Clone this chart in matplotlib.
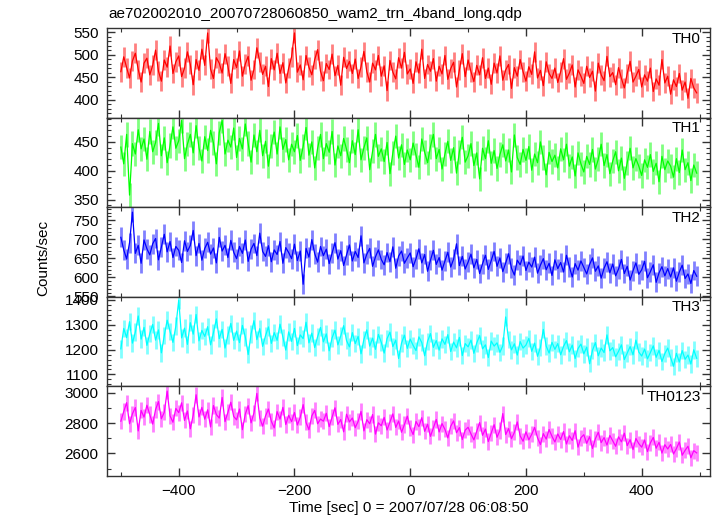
import numpy as np
import matplotlib.pyplot as plt
from matplotlib.ticker import MultipleLocator

plt.rcParams['font.family'] = ['Liberation Sans', 'DejaVu Sans']

# 5-sec samples from -500 to 495 sec
time = np.arange(-500, 500, 5)

th0 = [462, 495, 471, 448, 486, 503, 467, 439, 481, 492,
       455, 476, 510, 463, 441, 488, 472, 519, 458, 484,
       497, 451, 470, 506, 478, 433, 489, 465, 512, 476,
       548, 468, 447, 493, 481, 459, 502, 474, 436, 489,
       471, 508, 452, 479, 496, 443, 467, 515, 484, 456,
       474, 429, 491, 466, 503, 458, 482, 437, 470, 495,
       548, 461, 477, 444, 498, 472, 455, 489, 511, 463,
       442, 480, 467, 501, 453, 476, 432, 494, 469, 485,
       458, 490, 447, 473, 507, 462, 439, 481, 466, 498,
       452, 475, 420, 487, 461, 446, 493, 470, 505, 457,
       468, 436, 484, 459, 512, 447, 478, 463, 491, 441,
       474, 457, 498, 445, 469, 483, 428, 466, 502, 451,
       488, 462, 440, 476, 455, 493, 447, 470, 434, 481,
       459, 497, 443, 466, 478, 425, 471, 452, 489, 462,
       441, 473, 456, 506, 448, 465, 431, 484, 458, 447,
       470, 438, 462, 491, 445, 459, 477, 428, 466, 452,
       436, 474, 449, 463, 419, 481, 455, 442, 496, 451,
       460, 433, 471, 447, 426, 458, 485, 439, 452, 467,
       428, 455, 441, 470, 418, 446, 432, 489, 437, 452,
       412, 444, 429, 458, 421, 439, 403, 447, 426, 415]

th1 = [441, 412, 463, 358, 447, 429, 471, 438, 455, 420,
       468, 433, 449, 482, 426, 457, 414, 444, 476, 439,
       452, 487, 421, 446, 463, 431, 478, 440, 417, 459,
       435, 470, 448, 412, 466, 487, 429, 453, 441, 474,
       423, 456, 438, 481, 447, 415, 462, 433, 470, 426,
       451, 408, 443, 467, 429, 476, 437, 454, 419, 446,
       433, 461, 418, 442, 475, 427, 450, 405, 439, 463,
       421, 447, 432, 468, 410, 443, 426, 456, 437, 414,
       452, 428, 471, 419, 440, 457, 402, 434, 463, 425,
       438, 416, 449, 395, 431, 460, 422, 445, 411, 436,
       419, 448, 427, 406, 455, 432, 414, 442, 463, 421,
       437, 403, 429, 451, 418, 440, 396, 433, 458, 415,
       426, 447, 409, 431, 386, 439, 421, 452, 413, 435,
       404, 428, 445, 417, 436, 398, 462, 423, 411, 437,
       418, 442, 401, 429, 414, 450, 423, 393, 432, 416,
       427, 405, 438, 419, 446, 408, 424, 391, 431, 412,
       398, 425, 411, 437, 403, 420, 446, 409, 428, 395,
       417, 433, 400, 422, 387, 414, 439, 405, 421, 408,
       392, 419, 406, 428, 399, 413, 381, 425, 402, 417,
       408, 389, 421, 397, 436, 402, 414, 383, 410, 396]

th2 = [705, 672, 648, 691, 771, 663, 684, 637, 698, 675,
       659, 688, 702, 646, 679, 713, 667, 694, 652, 681,
       671, 639, 696, 668, 684, 723, 657, 689, 645, 676,
       692, 661, 677, 638, 705, 669, 684, 652, 697, 666,
       649, 681, 663, 698, 642, 674, 689, 657, 716, 668,
       655, 683, 641, 672, 660, 694, 637, 678, 665, 649,
       687, 644, 669, 582, 676, 653, 699, 662, 640, 681,
       657, 674, 636, 664, 691, 648, 670, 631, 659, 685,
       643, 668, 652, 709, 638, 661, 676, 629, 654, 672,
       647, 633, 665, 641, 680, 624, 656, 669, 637, 651,
       664, 628, 649, 675, 638, 660, 616, 645, 671, 634,
       652, 619, 643, 666, 627, 648, 688, 631, 655, 622,
       640, 661, 625, 647, 610, 636, 658, 621, 644, 668,
       629, 651, 615, 638, 662, 624, 606, 645, 633, 656,
       618, 640, 627, 653, 611, 632, 649, 620, 637, 605,
       646, 623, 639, 614, 658, 628, 601, 636, 619, 643,
       626, 609, 634, 651, 616, 630, 598, 624, 641, 612,
       635, 604, 622, 647, 610, 629, 593, 617, 638, 608,
       620, 642, 599, 615, 633, 587, 612, 628, 604, 623,
       601, 625, 590, 614, 632, 597, 609, 584, 618, 603]

th3 = [1203, 1285, 1248, 1312, 1226, 1270, 1335, 1242, 1289, 1217,
       1264, 1301, 1238, 1279, 1187, 1256, 1318, 1273, 1229, 1294,
       1398, 1247, 1286, 1221, 1308, 1262, 1341, 1235, 1277, 1253,
       1292, 1219, 1268, 1323, 1244, 1281, 1206, 1259, 1305, 1237,
       1274, 1228, 1297, 1251, 1180, 1263, 1316, 1240, 1284, 1213,
       1256, 1291, 1225, 1268, 1237, 1302, 1249, 1198, 1271, 1233,
       1285, 1216, 1259, 1244, 1310, 1227, 1266, 1208, 1252, 1289,
       1231, 1263, 1195, 1247, 1278, 1219, 1255, 1296, 1236, 1211,
       1268, 1224, 1253, 1183, 1241, 1279, 1214, 1246, 1201, 1261,
       1229, 1186, 1244, 1270, 1212, 1238, 1164, 1226, 1258, 1205,
       1242, 1217, 1196, 1251, 1228, 1175, 1233, 1264, 1209, 1236,
       1198, 1243, 1221, 1260, 1192, 1230, 1207, 1249, 1176, 1224,
       1211, 1238, 1185, 1227, 1256, 1203, 1219, 1168, 1234, 1214,
       1227, 1189, 1215, 1331, 1240, 1199, 1223, 1178, 1232, 1206,
       1218, 1245, 1193, 1226, 1173, 1209, 1281, 1214, 1186, 1229,
       1201, 1224, 1179, 1213, 1236, 1191, 1218, 1164, 1204, 1222,
       1183, 1210, 1143, 1197, 1228, 1175, 1206, 1188, 1259, 1195,
       1208, 1171, 1193, 1219, 1160, 1186, 1212, 1179, 1238, 1190,
       1174, 1202, 1163, 1188, 1215, 1169, 1197, 1152, 1184, 1206,
       1168, 1133, 1185, 1150, 1196, 1161, 1178, 1142, 1199, 1165]

th0123 = [2812, 2876, 2934, 2795, 2861, 2902, 2748, 2883, 2839, 2917,
          2856, 2793, 2889, 2941, 2828, 2870, 3010, 2847, 2805, 2896,
          2868, 2933, 2817, 2879, 2762, 2851, 2986, 2840, 2903, 2825,
          2887, 2774, 2915, 2856, 2832, 2968, 2809, 2871, 2937, 2843,
          2821, 2892, 2756, 2858, 2914, 2801, 2866, 2995, 2834, 2779,
          2847, 2892, 2812, 2768, 2875, 2826, 2903, 2790, 2851, 2809,
          2869, 2787, 2838, 2921, 2804, 2756, 2847, 2883, 2795, 2826,
          2812, 2864, 2776, 2839, 2900, 2791, 2823, 2742, 2858, 2807,
          2833, 2769, 2811, 2876, 2748, 2822, 2795, 2856, 2727, 2801,
          2782, 2837, 2754, 2806, 2860, 2771, 2813, 2739, 2790, 2845,
          2768, 2724, 2810, 2776, 2835, 2745, 2792, 2712, 2767, 2823,
          2741, 2796, 2758, 2702, 2779, 2814, 2736, 2770, 2691, 2753,
          2772, 2728, 2689, 2747, 2803, 2719, 2760, 2678, 2734, 2789,
          2706, 2751, 2862, 2724, 2763, 2697, 2738, 2807, 2715, 2680,
          2742, 2689, 2726, 2771, 2703, 2658, 2730, 2694, 2757, 2712,
          2675, 2728, 2691, 2744, 2662, 2716, 2685, 2749, 2641, 2703,
          2723, 2666, 2710, 2632, 2697, 2739, 2671, 2704, 2655, 2718,
          2682, 2647, 2709, 2676, 2733, 2651, 2690, 2625, 2698, 2664,
          2641, 2688, 2612, 2669, 2705, 2634, 2673, 2602, 2657, 2629,
          2659, 2596, 2631, 2675, 2588, 2620, 2647, 2571, 2618, 2603]

# 1-sigma error per band (roughly constant)
errs = [22, 21, 26, 35, 53]
names = ['TH0', 'TH1', 'TH2', 'TH3', 'TH0123']
series = [th0, th1, th2, th3, th0123]

colors = ['#ff0000', '#00ff00', '#0000ff', '#00ffff', '#ff00ff']
light = ['#ff8080', '#80ff80', '#8080ff', '#80ffff', '#ff80ff']
ylims = [(360, 559), (337, 492), (549, 784), (1052, 1412), (2451, 3041)]
ymaj = [50, 50, 50, 100, 200]
ymin = [10, 10, 10, 20, 100]

fig, axes = plt.subplots(5, 1, sharex=True, figsize=(7.17, 5.16), dpi=100)
fig.subplots_adjust(left=0.1492, right=0.9902, top=0.9457, bottom=0.0775, hspace=0)

fs = 11
for i, ax in enumerate(axes):
    y = np.array(series[i])
    ax.errorbar(time, y, yerr=errs[i], fmt='none', ecolor=light[i], elinewidth=2.0)
    ax.plot(time, y, color=colors[i], lw=0.9)
    ax.set_ylim(*ylims[i])
    ax.set_xlim(-524, 518)
    ax.yaxis.set_major_locator(MultipleLocator(ymaj[i]))
    ax.yaxis.set_minor_locator(MultipleLocator(ymin[i]))
    ax.xaxis.set_major_locator(MultipleLocator(200))
    ax.xaxis.set_minor_locator(MultipleLocator(100))
    ax.tick_params(which='both', direction='in', top=True, right=True, labelsize=fs,
                   color='#333333', pad=6)
    ax.tick_params(which='major', length=6, width=1)
    ax.tick_params(which='minor', length=3, width=0.8)
    for s in ax.spines.values():
        s.set_linewidth(1)
        s.set_color('#333333')
    ax.text(0.985, 0.96, names[i], transform=ax.transAxes, ha='right', va='top', fontsize=fs)

fig.text(108 / 717, 1 - 14 / 516, 'ae702002010_20070728060850_wam2_trn_4band_long.qdp',
         ha='left', va='center', fontsize=fs)
fig.text(43 / 717, 0.5, 'Counts/sec', rotation=90, ha='center', va='center', fontsize=fs)
axes[-1].set_xlabel('Time [sec] 0 = 2007/07/28 06:08:50', fontsize=fs, labelpad=2)

fig.savefig('out.png', dpi=100)
